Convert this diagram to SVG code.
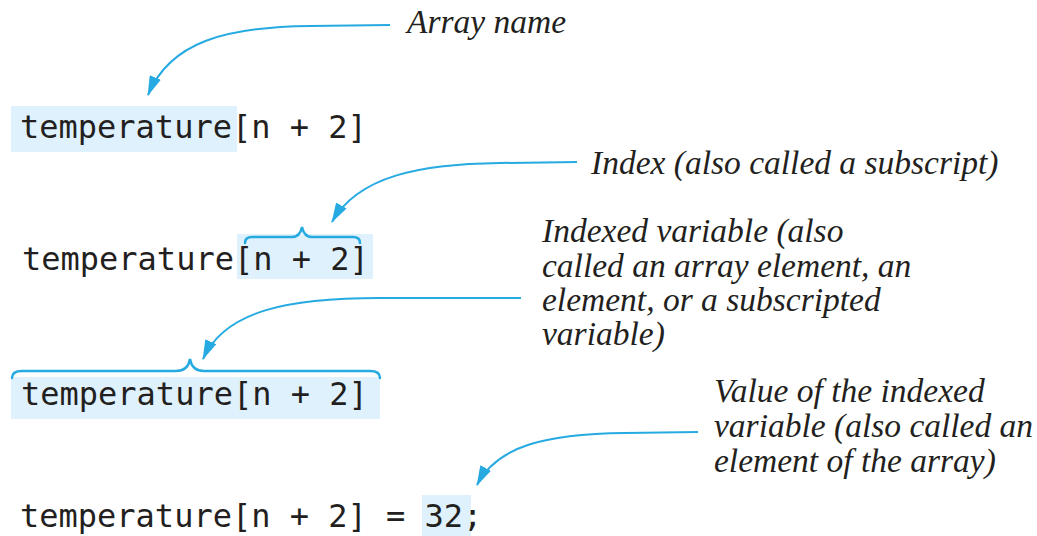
<svg xmlns="http://www.w3.org/2000/svg" width="1037" height="536" viewBox="0 0 1037 536">
<style>
.code{font-family:"DejaVu Sans Mono","Liberation Mono",monospace;font-size:32px;fill:#231f20;}
.lbl{font-family:"Liberation Serif","DejaVu Serif",serif;font-style:italic;font-size:33.5px;fill:#231f20;}
.hl{fill:#dff1fc;}
.brace{fill:none;stroke:#27aae1;stroke-width:2.5;stroke-linecap:round;}
.conn{fill:none;stroke:#27aae1;stroke-width:2;}
</style>
<defs>
<marker id="ah" viewBox="0 0 20 12" refX="19" refY="6" markerWidth="20" markerHeight="12" markerUnits="userSpaceOnUse" orient="auto">
<path d="M0,0 L20,6 L0,12 Z" fill="#27aae1"/>
</marker>
</defs>
<rect width="1037" height="536" fill="#ffffff"/>
<g id="row1">
<rect class="hl" x="11" y="106" width="226" height="46"/>
<text class="code" x="20" y="138">temperature[n + 2]</text>
</g>
<g id="label-array-name">
<text class="lbl" x="407" y="33">Array name</text>
</g>
<g id="row2">
<rect class="hl" x="237" y="234" width="136" height="45"/>
<text class="code" x="22" y="270">temperature[n + 2]</text>
<path class="brace" d="M245,243 Q245,237 252,237 L292,237 Q300,237 302,227 Q304,237 312,237 L353,237 Q360,237 360,243"/>
</g>
<g id="label-index">
<text class="lbl" x="591" y="174">Index (also called a subscript)</text>
</g>
<g id="row3">
<rect class="hl" x="11" y="377" width="369" height="42"/>
<text class="code" x="21" y="405">temperature[n + 2]</text>
<path class="brace" d="M12,378 Q12,371 22,371 L176,371 Q188,371 190,359 Q192,371 204,371 L370,371 Q380,371 380,378"/>
</g>
<g id="label-indexed-variable">
<text class="lbl" x="542" y="242">Indexed variable (also</text>
<text class="lbl" x="542" y="277">called an array element, an</text>
<text class="lbl" x="542" y="311">element, or a subscripted</text>
<text class="lbl" x="542" y="345">variable)</text>
</g>
<g id="row4">
<rect class="hl" x="422" y="495" width="49" height="41"/>
<text class="code" x="20" y="527">temperature[n + 2] = 32;</text>
</g>
<g id="label-value">
<text class="lbl" x="714" y="402">Value of the indexed</text>
<text class="lbl" x="714" y="437">variable (also called an</text>
<text class="lbl" x="714" y="472">element of the array)</text>
</g>
<g id="connectors">
<path class="conn" marker-end="url(#ah)" d="M390,25 L310,26 C225,27 170,42 148,95"/>
<path class="conn" marker-end="url(#ah)" d="M577,162 L500,163 C420,164 358,176 332,222"/>
<path class="conn" marker-end="url(#ah)" d="M521,298 L380,298 C290,298 225,310 203,359"/>
<path class="conn" marker-end="url(#ah)" d="M698,432 L625,433 C545,434 497,446 477,485"/>
</g>
</svg>
